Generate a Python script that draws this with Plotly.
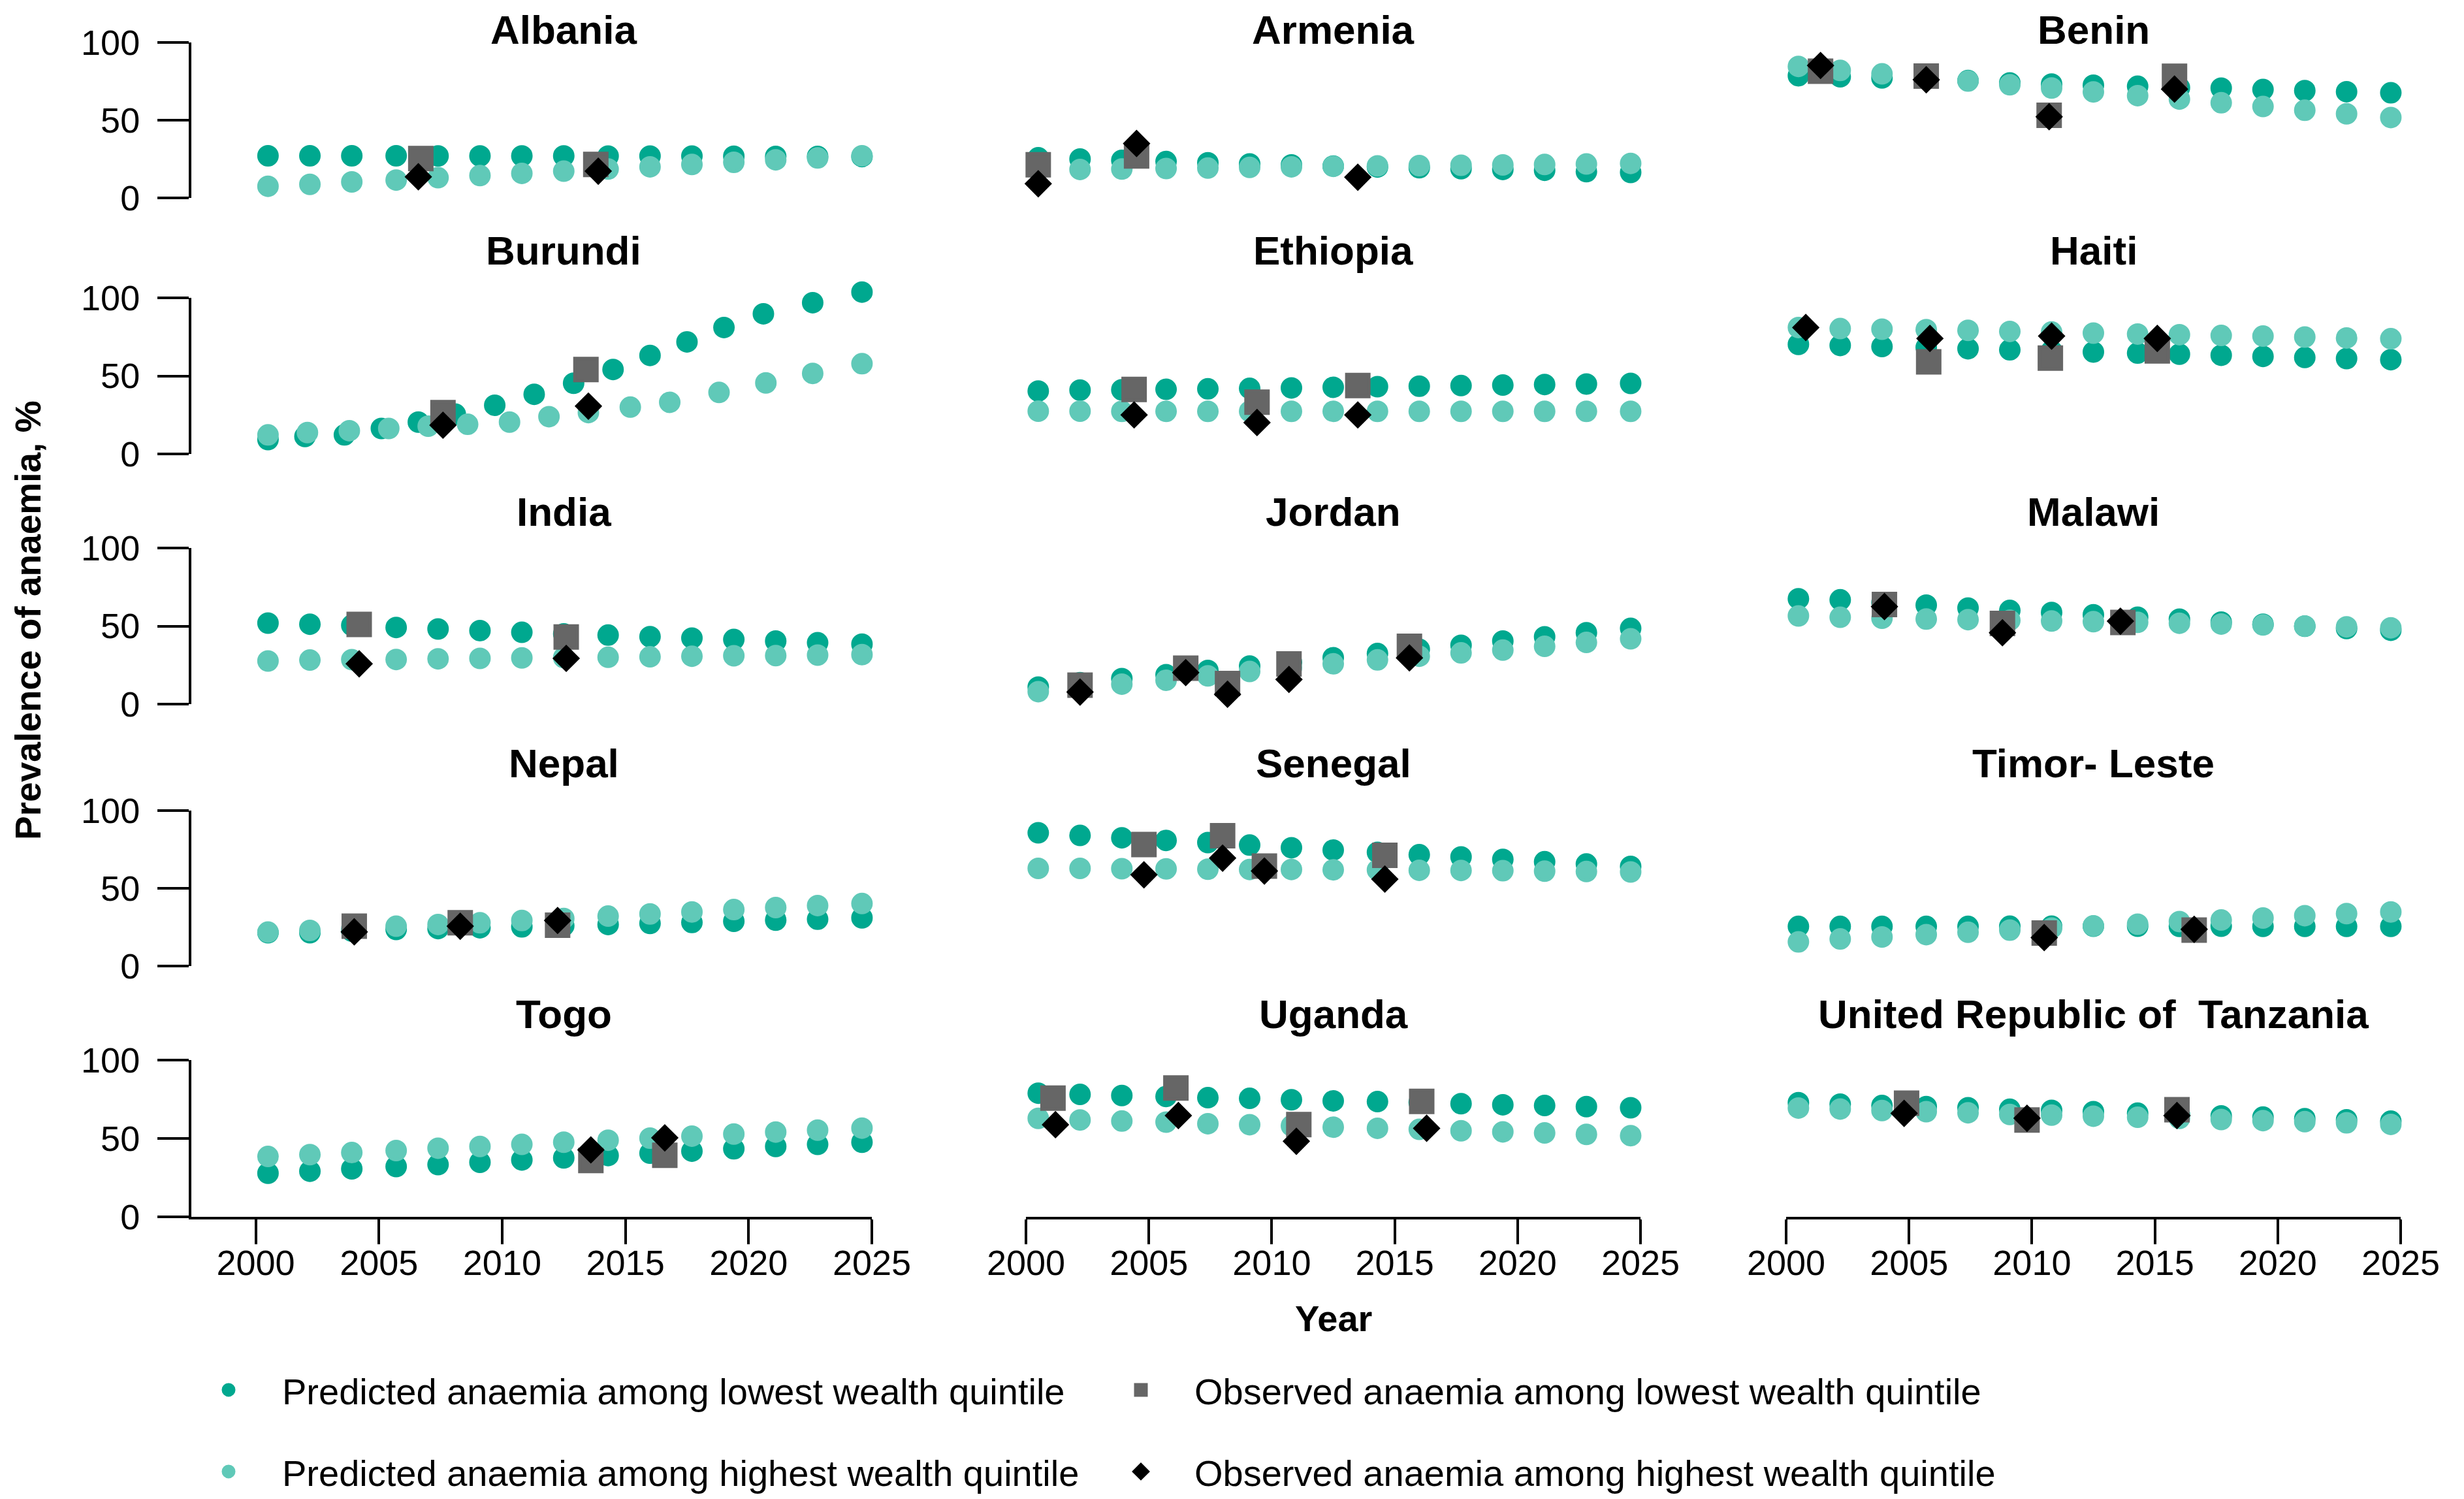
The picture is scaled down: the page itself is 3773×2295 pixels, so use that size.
import plotly.graph_objects as go

W, H = 3773, 2295

# ---------------- data ----------------
COUNTRIES = ["Albania", "Armenia", "Benin",
             "Burundi", "Ethiopia", "Haiti",
             "India", "Jordan", "Malawi",
             "Nepal", "Senegal", "Timor-Leste",
             "Togo", "Uganda", "United Republic of Tanzania"]
TITLES = {"Timor-Leste": "Timor- Leste",
          "United Republic of Tanzania": "United Republic of\u00a0 Tanzania"}

PRED_YEARS = [2000.5, 2002.2, 2003.9, 2005.7, 2007.4, 2009.1, 2010.8, 2012.5,
              2014.3, 2016.0, 2017.7, 2019.4, 2021.1, 2022.8, 2024.6]
PRED_LOW_YEARS = {"Burundi": [2000.5, 2002.0, 2003.6, 2005.1, 2006.6, 2008.1, 2009.7, 2011.3,
                              2012.9, 2014.5, 2016.0, 2017.5, 2019.0, 2020.6, 2022.6, 2024.6]}
PRED_HIGH_YEARS = {"Burundi": [2000.5, 2002.1, 2003.8, 2005.4, 2007.0, 2008.6, 2010.3, 2011.9,
                               2013.5, 2015.2, 2016.8, 2018.8, 2020.7, 2022.6, 2024.6]}

PRED_LOW = {
    "Albania": [27.1, 27.1, 27.1, 27.1, 27.0, 27.0, 27.0, 27.0, 26.9, 26.9, 26.9, 26.8, 26.7, 26.7, 26.6],
    "Armenia": [25.8, 25.0, 24.2, 23.4, 22.6, 21.9, 21.2, 20.5, 19.9, 19.4, 18.8, 18.3, 17.8, 16.9, 16.4],
    "Benin": [78.6, 77.9, 77.2, 76.5, 75.5, 74.0, 73.2, 72.5, 71.8, 70.9, 70.6, 69.7, 69.0, 68.3, 67.6],
    "Burundi": [9.2, 11.2, 12.2, 16.3, 20.4, 25.5, 31.2, 38.2, 45.3, 54.1, 63.1, 71.8, 81.0, 89.8, 96.9, 103.7],
    "Ethiopia": [40.3, 40.9, 41.1, 41.4, 41.7, 42.0, 42.3, 42.7, 43.1, 43.4, 43.8, 44.1, 44.5, 44.8, 45.2],
    "Haiti": [70.2, 69.5, 68.8, 68.2, 67.4, 66.7, 66.1, 65.3, 64.6, 63.9, 63.2, 62.5, 61.8, 61.1, 60.4],
    "India": [51.9, 51.2, 50.5, 49.1, 48.1, 47.1, 46.0, 45.0, 44.2, 43.2, 42.3, 41.4, 40.4, 39.3, 38.4],
    "Jordan": [10.9, 13.7, 16.3, 18.8, 21.6, 24.4, 26.9, 29.7, 32.4, 35.1, 37.7, 40.4, 43.1, 45.7, 48.5],
    "Malawi": [67.5, 66.8, 65.1, 63.4, 61.5, 60.0, 58.7, 57.2, 55.7, 54.4, 52.5, 51.2, 49.9, 48.4, 47.3],
    "Nepal": [21.4, 21.4, 22.4, 23.5, 24.1, 24.6, 25.2, 25.9, 26.7, 27.4, 28.0, 28.8, 29.5, 30.1, 31.0],
    "Senegal": [85.7, 84.0, 82.5, 80.8, 79.4, 77.8, 76.1, 74.6, 73.1, 71.6, 70.2, 68.6, 67.1, 65.6, 64.1],
    "Timor-Leste": [25.5, 25.5, 25.5, 25.5, 25.5, 25.6, 25.6, 25.6, 25.6, 25.5, 25.6, 25.5, 25.5, 25.5, 25.5],
    "Togo": [27.8, 29.1, 30.6, 32.1, 33.3, 34.8, 36.3, 37.6, 39.1, 40.6, 41.9, 43.4, 44.9, 46.2, 47.6],
    "Uganda": [78.9, 78.1, 77.4, 76.8, 76.0, 75.6, 74.7, 74.0, 73.5, 72.9, 72.2, 71.5, 71.0, 70.3, 69.6],
    "United Republic of Tanzania": [72.8, 71.9, 71.0, 70.3, 69.6, 68.6, 67.9, 67.1, 66.1, 65.3, 64.4, 63.6, 62.6, 61.9, 61.0],
}
PRED_HIGH = {
    "Albania": [7.5, 8.7, 10.3, 11.5, 13.0, 14.4, 15.8, 17.2, 18.6, 20.0, 21.5, 22.9, 24.5, 25.7, 27.1],
    "Armenia": [18.2, 18.3, 18.6, 18.9, 19.2, 19.6, 20.0, 20.3, 20.6, 20.8, 21.0, 21.2, 21.5, 21.8, 22.2],
    "Benin": [84.6, 82.0, 79.8, 77.5, 75.2, 72.8, 70.7, 68.2, 65.8, 63.6, 61.2, 58.8, 56.4, 54.1, 51.7],
    "Burundi": [12.2, 13.7, 14.9, 16.3, 17.8, 19.0, 20.4, 23.9, 26.5, 30.0, 33.1, 39.4, 45.5, 51.6, 57.8],
    "Ethiopia": [27.4, 27.4, 27.3, 27.3, 27.3, 27.3, 27.3, 27.3, 27.3, 27.3, 27.3, 27.3, 27.3, 27.3, 27.3],
    "Haiti": [81.0, 80.3, 79.9, 79.6, 79.2, 78.5, 78.1, 77.4, 76.8, 76.4, 75.9, 75.5, 74.9, 74.3, 73.8],
    "India": [27.6, 28.2, 28.5, 28.6, 29.0, 29.3, 29.6, 29.8, 30.0, 30.3, 30.7, 31.0, 31.1, 31.4, 31.7],
    "Jordan": [8.0, 9.8, 12.8, 15.3, 18.1, 20.9, 23.3, 25.8, 28.3, 30.7, 32.8, 34.6, 37.0, 39.5, 41.8],
    "Malawi": [56.5, 55.6, 55.0, 54.5, 54.1, 53.7, 53.2, 52.8, 52.4, 51.8, 51.3, 50.7, 50.0, 49.5, 48.9],
    "Nepal": [21.8, 22.9, 24.1, 25.6, 26.7, 27.8, 29.3, 30.6, 32.1, 33.5, 34.8, 36.3, 37.6, 38.9, 40.2],
    "Senegal": [62.8, 62.8, 62.6, 62.5, 62.3, 62.1, 62.1, 61.9, 61.8, 61.6, 61.5, 61.3, 61.0, 60.8, 60.5],
    "Timor-Leste": [15.5, 17.4, 18.7, 20.2, 21.7, 23.1, 24.4, 25.8, 26.9, 28.6, 29.6, 30.9, 32.4, 33.7, 34.8],
    "Togo": [38.5, 39.7, 41.0, 42.3, 43.8, 44.9, 46.2, 47.6, 48.9, 50.2, 51.5, 52.8, 54.1, 55.3, 56.6],
    "Uganda": [62.8, 61.8, 61.1, 60.4, 59.4, 58.8, 58.1, 57.2, 56.5, 55.8, 54.9, 54.2, 53.5, 52.6, 51.8],
    "United Republic of Tanzania": [69.4, 68.8, 67.8, 67.1, 66.4, 65.3, 64.9, 64.2, 63.5, 62.8, 62.1, 61.4, 60.7, 60.0, 59.0],
}

OBS_LOW_YEARS = {
    "Albania": [2006.7, 2013.8], "Armenia": [2000.5, 2004.5],
    "Benin": [2001.4, 2005.7, 2010.7, 2015.8], "Burundi": [2007.6, 2013.4],
    "Ethiopia": [2004.4, 2009.4, 2013.5], "Haiti": [2005.8, 2010.75, 2015.1],
    "India": [2004.2, 2012.6], "Jordan": [2002.2, 2006.5, 2008.2, 2010.7, 2015.6],
    "Malawi": [2004.0, 2008.8, 2013.7], "Nepal": [2004.0, 2008.3, 2012.25],
    "Senegal": [2004.8, 2008.0, 2009.7, 2014.6], "Timor-Leste": [2010.5, 2016.6],
    "Togo": [2013.6, 2016.6], "Uganda": [2001.1, 2006.1, 2011.1, 2016.1],
    "United Republic of Tanzania": [2004.9, 2009.8, 2015.9],
}
OBS_LOW = {
    "Albania": [25.3, 21.5], "Armenia": [21.3, 27.0],
    "Benin": [81.5, 78.4, 53.1, 78.3], "Burundi": [26.5, 54.1],
    "Ethiopia": [41.3, 33.2, 43.8], "Haiti": [59.0, 61.4, 66.0],
    "India": [51.0, 43.0], "Jordan": [12.1, 23.0, 13.2, 25.7, 37.0],
    "Malawi": [63.8, 51.7, 52.3], "Nepal": [25.6, 27.8, 26.3],
    "Senegal": [78.2, 83.8, 64.3, 71.2], "Timor-Leste": [21.2, 23.1],
    "Togo": [35.9, 39.3], "Uganda": [75.7, 82.2, 58.9, 73.6],
    "United Republic of Tanzania": [72.5, 61.8, 68.3],
}
OBS_HIGH_YEARS = {
    "Albania": [2006.6, 2013.9], "Armenia": [2000.5, 2004.5, 2013.5],
    "Benin": [2001.4, 2005.7, 2010.7, 2015.8], "Burundi": [2007.6, 2013.5],
    "Ethiopia": [2004.4, 2009.4, 2013.5], "Haiti": [2000.8, 2005.85, 2010.8, 2015.1],
    "India": [2004.2, 2012.6], "Jordan": [2002.2, 2006.5, 2008.2, 2010.7, 2015.6],
    "Malawi": [2004.0, 2008.8, 2013.6], "Nepal": [2004.0, 2008.3, 2012.25],
    "Senegal": [2004.8, 2008.0, 2009.7, 2014.6], "Timor-Leste": [2010.5, 2016.6],
    "Togo": [2013.6, 2016.6], "Uganda": [2001.2, 2006.2, 2011.0, 2016.3],
    "United Republic of Tanzania": [2004.8, 2009.8, 2015.9],
}
OBS_HIGH = {
    "Albania": [13.6, 17.2], "Armenia": [9.1, 35.0, 13.3],
    "Benin": [85.2, 76.0, 52.2, 70.0], "Burundi": [18.4, 30.6],
    "Ethiopia": [25.0, 20.1, 25.0], "Haiti": [81.0, 74.0, 75.5, 74.0],
    "India": [25.8, 29.3], "Jordan": [7.7, 20.2, 6.3, 15.8, 29.6],
    "Malawi": [62.5, 45.7, 53.1], "Nepal": [22.0, 25.6, 29.3],
    "Senegal": [58.7, 69.4, 61.1, 55.9], "Timor-Leste": [18.3, 23.6],
    "Togo": [42.7, 50.4], "Uganda": [58.8, 64.6, 48.2, 56.5],
    "United Republic of Tanzania": [66.0, 62.9, 64.6],
}

X_TICKS = [2000, 2005, 2010, 2015, 2020, 2025]
Y_TICKS = [0, 50, 100]

SERIES_NAMES = ["Predicted anaemia among lowest wealth quintile",
                "Observed anaemia among lowest wealth quintile",
                "Predicted anaemia among highest wealth quintile",
                "Observed anaemia among highest wealth quintile"]

# ---------------- styling / geometry ----------------
DARK = "#00A88F"
LIGHT = "#60C9B8"
GREY = "#666666"
BLACK = "#000000"
FONT = "Liberation Sans, Arial, sans-serif"

COL_PX = [(285, 1327), (1563, 2504), (2727, 3668)]
COL_XMIN = [1997.39, 2000, 2000]
ROW_PX = [(57, 295), (448, 687), (831, 1070), (1233, 1471), (1615, 1855)]
TITLE_Y_PX = [37, 376, 775, 1160, 1544]
Y_TOP = 100
Y_HEADROOM = 106  # data range top for a series that goes above 100


def px2y(p):
    return 1 - p / H


def yaxis_style():
    return dict(visible=True, showline=True, linecolor="black", linewidth=4,
                ticks="outside", ticklen=48, tickwidth=4, tickcolor="black",
                tickmode="array", tickvals=Y_TICKS, ticktext=[str(v) for v in Y_TICKS],
                tickfont=dict(family=FONT, size=54, color="black"),
                ticklabelstandoff=16)


fig = go.Figure()
layout = {}
annotations = []
extra_axis = len(COUNTRIES)

for i, country in enumerate(COUNTRIES):
    r, c = divmod(i, 3)
    n = i + 1
    xname = "x" if n == 1 else f"x{n}"
    yname = "y" if n == 1 else f"y{n}"
    xkey = "xaxis" if n == 1 else f"xaxis{n}"
    ykey = "yaxis" if n == 1 else f"yaxis{n}"
    first = (i == 0)
    x0, x1 = COL_PX[c]
    yt, yb = ROW_PX[r]

    series = [
        (PRED_LOW_YEARS.get(country, PRED_YEARS), PRED_LOW[country], SERIES_NAMES[0],
         dict(symbol="circle", size=28, color=DARK, line=dict(width=5, color=DARK)), "legend"),
        (PRED_HIGH_YEARS.get(country, PRED_YEARS), PRED_HIGH[country], SERIES_NAMES[2],
         dict(symbol="circle", size=28, color=LIGHT, line=dict(width=5, color=LIGHT)), "legend3"),
        (OBS_LOW_YEARS[country], OBS_LOW[country], SERIES_NAMES[1],
         dict(symbol="square", size=34, color=GREY, line=dict(width=5, color=GREY)), "legend2"),
        (OBS_HIGH_YEARS[country], OBS_HIGH[country], SERIES_NAMES[3],
         dict(symbol="diamond", size=27, color=BLACK, line=dict(width=5, color=BLACK)), "legend4"),
    ]
    needs_headroom = any(max(s[1]) > Y_TOP for s in series)

    base_y = dict(domain=[px2y(yb), px2y(yt)], range=[0, Y_TOP], anchor=xname,
                  showgrid=False, zeroline=False, fixedrange=True, automargin=False)
    if c == 0:
        base_y.update(yaxis_style())
    else:
        base_y.update(visible=False)

    if needs_headroom:
        # series above 100 sit on a taller, hidden axis aligned with the 0-100 scale
        top_px = yt - (Y_HEADROOM - Y_TOP) * (yb - yt) / Y_TOP
        layout[ykey] = dict(domain=[px2y(yb), px2y(top_px)], range=[0, Y_HEADROOM],
                            anchor=xname, showgrid=False, zeroline=False, fixedrange=True,
                            automargin=False, visible=False)
        extra_axis += 1
        disp_name = f"y{extra_axis}"
        layout[f"yaxis{extra_axis}"] = base_y
    else:
        disp_name = yname
        layout[ykey] = base_y

    for xs, ys, name, marker, leg in series:
        target = yname if (needs_headroom and max(ys) > Y_TOP) else disp_name
        fig.add_trace(go.Scatter(
            x=xs, y=ys, mode="markers", name=name, marker=marker,
            xaxis=xname, yaxis=target, cliponaxis=False,
            showlegend=first, legend=leg))

    xa = dict(domain=[x0 / W, x1 / W], range=[COL_XMIN[c], 2025], anchor=yname,
              showgrid=False, zeroline=False, fixedrange=True, automargin=False)
    if r == 4:
        xa.update(visible=True, showline=True, linecolor="black", linewidth=4,
                  ticks="outside", ticklen=38, tickwidth=4, tickcolor="black",
                  tickmode="array", tickvals=X_TICKS, ticktext=[str(v) for v in X_TICKS],
                  tickfont=dict(family=FONT, size=54, color="black"),
                  ticklabelstandoff=-18)
    else:
        xa.update(visible=False)
    layout[xkey] = xa

    annotations.append(dict(
        text=f"<b>{TITLES.get(country, country)}</b>", xref=xname, x=2012.5,
        yref="paper", y=px2y(TITLE_Y_PX[r]), xanchor="center", yanchor="middle",
        showarrow=False, font=dict(family=FONT, size=62, color="black")))

annotations.append(dict(
    text="<b>Year</b>", xref="x14", x=2012.5, yref="paper", y=px2y(2010),
    xanchor="center", yanchor="middle", showarrow=False,
    font=dict(family=FONT, size=56, color="black")))
annotations.append(dict(
    text="<b>Prevalence of anaemia, %</b>", xref="paper", x=35 / W, yref="paper", y=px2y(942),
    xanchor="center", yanchor="middle", textangle=-90, showarrow=False,
    font=dict(family=FONT, size=55, color="black")))


def legend_box(x_px, y_px):
    return dict(x=x_px / W, y=px2y(y_px), xanchor="left", yanchor="middle",
                orientation="v", bgcolor="rgba(0,0,0,0)", borderwidth=0,
                itemwidth=154, itemclick=False, itemdoubleclick=False,
                font=dict(family=FONT, size=56, color="black"))


fig.update_layout(
    template="none",
    width=W, height=H, margin=dict(l=0, r=0, t=0, b=0, pad=0, autoexpand=False),
    paper_bgcolor="white", plot_bgcolor="rgba(0,0,0,0)",
    annotations=annotations,
    legend=legend_box(260, 2120),
    legend2=legend_box(1657, 2120),
    legend3=legend_box(260, 2245),
    legend4=legend_box(1657, 2245),
    **layout)

fig.write_html("out.html")
